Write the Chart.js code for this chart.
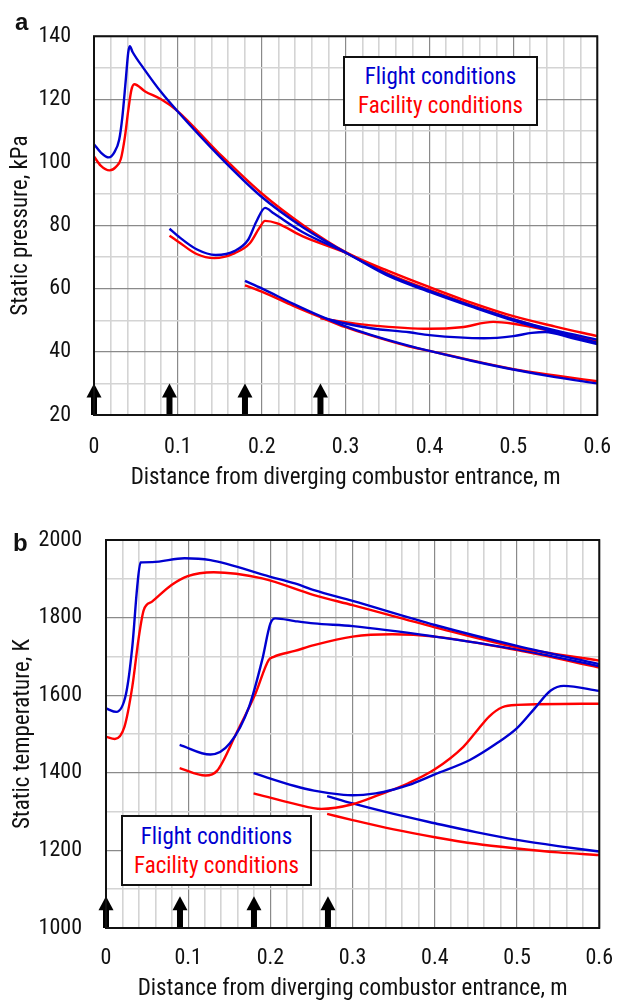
<!DOCTYPE html>
<html>
<head>
<meta charset="utf-8">
<script src="https://cdn.jsdelivr.net/npm/chart.js@4.4.1/dist/chart.umd.min.js"></script>
<style>
  html, body { margin: 0; padding: 0; background: #fff; overflow: hidden; }
  body { width: 630px; height: 1001px; position: relative; font-family: "Roboto Condensed", "Liberation Sans", sans-serif; }
  canvas { position: absolute; left: 0; }
  .legend { position: absolute; box-sizing: border-box; border: 2px solid #111; background: #fff;
            display: flex; flex-direction: column; justify-content: center; align-items: center;
            font-size: 23px; line-height: 29px; }
  .flight { color: #0000d0; }
  .facility { color: #ff0000; }
  .panel { position: absolute; font-family: "Liberation Sans", sans-serif; font-weight: bold; font-size: 24px; line-height: 24px; color: #111; }
</style>
</head>
<body>
<canvas id="pChart" width="630" height="500" style="top:0"></canvas>
<canvas id="tChart" width="630" height="520" style="top:500px"></canvas>
<div class="panel" style="left:15px; top:10px">a</div>
<div class="panel" style="left:13px; top:531px">b</div>
<div class="legend" style="left:343px; top:56px; width:195px; height:70px">
  <div class="flight">Flight conditions</div>
  <div class="facility">Facility conditions</div>
</div>
<div class="legend" style="left:121px; top:815px; width:191px; height:71px">
  <div class="flight">Flight conditions</div>
  <div class="facility">Facility conditions</div>
</div>
<script>
// ---- (a) static pressure, kPa ----
// 飞行条件 (蓝)
var pFlightX1 = [0, 0.008, 0.0177, 0.0242, 0.030, 0.0338, 0.0377, 0.0408, 0.0427, 0.046, 0.06, 0.08, 0.099, 0.149, 0.199, 0.249, 0.3, 0.353, 0.4, 0.45, 0.5, 0.55, 0.6];
var pFlightY1 = [105.8, 103.2, 101.6, 103.2, 107.2, 114.4, 125.6, 134.8, 136.8, 135.0, 129.5, 122.3, 116.4, 102.1, 89.3, 79.5, 71.5, 64.2, 59.3, 54.6, 50.3, 46.8, 43.9];
var pFlightX2 = [0.09, 0.1, 0.1223, 0.145, 0.168, 0.184, 0.1935, 0.204, 0.2146, 0.249, 0.3, 0.353, 0.4, 0.45, 0.5, 0.55, 0.6];
var pFlightY2 = [79.0, 76.7, 72.5, 70.7, 72.0, 75.6, 81.2, 85.6, 83.8, 77.9, 71.4, 63.8, 59.0, 54.3, 49.9, 46.3, 42.9];
var pFlightX3 = [0.18, 0.2, 0.2377, 0.27, 0.3, 0.33, 0.376, 0.4, 0.45, 0.5, 0.55, 0.6];
var pFlightY3 = [62.5, 60.1, 55.2, 51.3, 48.1, 45.4, 41.9, 40.3, 37.2, 34.4, 32.0, 30.0];
var pFlightX4 = [0.27, 0.3, 0.33, 0.376, 0.4, 0.465, 0.5, 0.522, 0.538, 0.57, 0.6];
var pFlightY4 = [51.0, 49.0, 47.5, 46.2, 45.3, 44.3, 45.0, 46.0, 46.3, 44.4, 42.5];
// 设施条件 (红)
var pFacX1 = [0, 0.008, 0.0185, 0.0262, 0.032, 0.0369, 0.0408, 0.0446, 0.048, 0.061, 0.080, 0.099, 0.149, 0.199, 0.249, 0.3, 0.353, 0.4, 0.45, 0.5, 0.55, 0.6];
var pFacY1 = [101.9, 99.0, 97.5, 98.6, 101.1, 108.2, 116.4, 123.0, 124.8, 122.5, 120.0, 116.4, 102.9, 90.4, 80.2, 71.6, 65.4, 60.5, 55.6, 51.3, 48.0, 45.0];
var pFacX2 = [0.09, 0.1, 0.1223, 0.1435, 0.168, 0.1858, 0.197, 0.204, 0.2185, 0.249, 0.3, 0.353, 0.4, 0.45, 0.5, 0.55, 0.6];
var pFacY2 = [76.8, 75.0, 71.0, 69.7, 71.3, 74.4, 79.2, 81.5, 80.7, 76.6, 71.4, 64.5, 59.6, 54.8, 50.4, 46.5, 43.3];
var pFacX3 = [0.18, 0.2, 0.2377, 0.27, 0.3, 0.33, 0.376, 0.4, 0.45, 0.5, 0.55, 0.6];
var pFacY3 = [61.1, 59.1, 54.6, 51.0, 47.8, 45.2, 41.7, 40.3, 37.3, 34.5, 32.5, 30.7];
var pFacX4 = [0.27, 0.3, 0.33, 0.4, 0.4377, 0.476, 0.5, 0.55, 0.6];
var pFacY4 = [50.6, 49.4, 48.4, 47.3, 47.8, 49.5, 48.9, 46.4, 43.6];
var pArrowX = [0, 0.09, 0.18, 0.27];   // 箭头位置
var pArrowTip = 30;

// ---- (b) static temperature, K ----
var tFlightX1 = [0, 0.0126, 0.0245, 0.032, 0.038, 0.042, 0.0563, 0.0955, 0.127, 0.2, 0.2296, 0.253, 0.3, 0.4, 0.5, 0.6];
var tFlightY1 = [1566, 1557, 1605, 1725, 1880, 1942, 1943, 1953, 1948, 1905, 1888, 1871, 1843, 1781, 1727, 1680];
var tFlightX2 = [0.0896, 0.127, 0.1507, 0.174, 0.190, 0.2, 0.206, 0.2296, 0.253, 0.3, 0.4, 0.5, 0.6];
var tFlightY2 = [1472, 1447, 1476, 1570, 1691, 1785, 1798, 1791, 1785, 1778, 1751, 1718, 1675];
var tFlightX3 = [0.1795, 0.2296, 0.253, 0.289, 0.3, 0.328, 0.35, 0.3677, 0.4, 0.4426, 0.474, 0.5, 0.5215, 0.541, 0.557, 0.6];
var tFlightY3 = [1399, 1366, 1354, 1343, 1342, 1347, 1357, 1368, 1396, 1433, 1474, 1515, 1566, 1612, 1624, 1611];
var tFlightX4 = [0.269, 0.3, 0.35, 0.4, 0.45, 0.5, 0.55, 0.6];
var tFlightY4 = [1340, 1321, 1294, 1270, 1247, 1227, 1211, 1197];
var tFacX1 = [0, 0.0107, 0.0225, 0.032, 0.040, 0.046, 0.056, 0.0797, 0.0994, 0.131, 0.190, 0.253, 0.3, 0.4, 0.5, 0.6];
var tFacY1 = [1493, 1487, 1519, 1622, 1751, 1820, 1841, 1884, 1907, 1917, 1901, 1858, 1832, 1775, 1723, 1689];
var tFacX2 = [0.0896, 0.121, 0.135, 0.1586, 0.182, 0.198, 0.204, 0.2296, 0.253, 0.3, 0.348, 0.4, 0.5, 0.6];
var tFacY2 = [1412, 1393, 1405, 1502, 1605, 1691, 1699, 1714, 1729, 1751, 1757, 1751, 1716, 1671];
var tFacX3 = [0.1795, 0.2296, 0.262, 0.3, 0.332, 0.3677, 0.4, 0.4347, 0.45, 0.466, 0.482, 0.5, 0.6];
var tFacY3 = [1347, 1320, 1307, 1319, 1343, 1373, 1409, 1467, 1505, 1545, 1569, 1575, 1578];
var tFacX4 = [0.269, 0.3, 0.35, 0.4, 0.45, 0.5, 0.55, 0.6];
var tFacY4 = [1294, 1278, 1254, 1234, 1217, 1205, 1195, 1188];
var tArrowX = [0, 0.09, 0.18, 0.27];
var tArrowTip = 1082;

var BLUE = '#0000d0';
var RED = '#ff0000';
var FONT = '"Roboto Condensed", "Liberation Sans", sans-serif';

function pts(xs, ys) {
    return xs.map(function (x, i) { return { x: x, y: ys[i] }; });
}
function isMult(v, step) {
    var r = v / step;
    return Math.abs(r - Math.round(r)) < 1e-6;
}
function seg(xs, ys, color) {
    return { data: pts(xs, ys), borderColor: color, showLine: true, fill: false };
}

// 箭头和外框
var marksPlugin = {
    id: 'marks',
    afterDatasetsDraw: function (chart, args, opts) {
        var ctx = chart.ctx, xs = chart.scales.x, ys = chart.scales.y, a = chart.chartArea;
        ctx.save();
        ctx.fillStyle = '#000';
        opts.arrowX.forEach(function (v) {
            var px = xs.getPixelForValue(v);
            var base = ys.getPixelForValue(ys.min);
            var tip = ys.getPixelForValue(opts.arrowTip);
            ctx.fillRect(px - 3, tip + 12, 6, base - tip - 12);
            ctx.beginPath();
            ctx.moveTo(px, tip);
            ctx.lineTo(px + 7.5, tip + 14);
            ctx.lineTo(px - 7.5, tip + 14);
            ctx.closePath();
            ctx.fill();
        });
        ctx.strokeStyle = '#111';
        ctx.lineWidth = 2;
        ctx.strokeRect(a.left, a.top, a.right - a.left, a.bottom - a.top);
        ctx.restore();
    }
};

function buildOptions(o) {
    return {
        responsive: false,
        animation: false,
        layout: { padding: { left: 0, top: o.top, right: o.right, bottom: 0 } },
        plugins: {
            legend: { display: false },
            tooltip: { enabled: false },
            marks: { arrowX: o.arrowX, arrowTip: o.arrowTip }
        },
        elements: {
            point: { radius: 0 },
            line: { borderWidth: 2.4, cubicInterpolationMode: 'monotone' }
        },
        scales: {
            x: {
                type: 'linear', min: 0, max: 0.6,
                afterFit: function (s) { s.height = o.xh; },
                ticks: {
                    stepSize: 0.02, autoSkip: false, maxRotation: 0, maxTicksLimit: 100,
                    padding: o.xpad, color: '#111', font: { family: FONT, size: 22 },
                    callback: function (v) { return isMult(v, 0.1) ? (v === 0 ? '0' : v.toFixed(1)) : ''; }
                },
                grid: {
                    drawTicks: false,
                    color: function (c) { return isMult(c.tick.value, 0.1) ? '#8a8a8a' : '#d4d4d4'; },
                    lineWidth: function (c) { return isMult(c.tick.value, 0.1) ? 1.2 : 1.6; }
                },
                border: { display: false },
                title: {
                    display: true, text: 'Distance from diverging combustor entrance, m', color: '#111',
                    font: { family: FONT, size: 23 }, padding: { top: 0, bottom: o.tpad }
                }
            },
            y: {
                type: 'linear', min: o.ymin, max: o.ymax,
                afterFit: function (s) { s.width = o.yw; },
                ticks: {
                    stepSize: o.ystep / 2, autoSkip: false, maxTicksLimit: 100,
                    padding: o.ypad, color: '#111', font: { family: FONT, size: 22 },
                    callback: function (v) { return isMult(v, o.ystep) ? String(v) : ''; }
                },
                grid: {
                    drawTicks: false,
                    color: function (c) { return isMult(c.tick.value, o.ystep) ? '#8a8a8a' : '#d4d4d4'; },
                    lineWidth: function (c) { return isMult(c.tick.value, o.ystep) ? 1.2 : 1.6; }
                },
                border: { display: false },
                title: {
                    display: true, text: o.ytitle, color: '#111',
                    font: { family: FONT, size: 23 }, padding: { top: o.ytpad, bottom: 0 }
                }
            }
        }
    };
}

new Chart(document.getElementById('pChart'), {
    type: 'scatter',
    data: {
        datasets: [
            seg(pFlightX1, pFlightY1, BLUE), seg(pFacX1, pFacY1, RED),
            seg(pFlightX2, pFlightY2, BLUE), seg(pFacX2, pFacY2, RED),
            seg(pFlightX3, pFlightY3, BLUE), seg(pFacX3, pFacY3, RED),
            seg(pFlightX4, pFlightY4, BLUE), seg(pFacX4, pFacY4, RED)
        ]
    },
    options: buildOptions({
        top: 23, right: 16, xh: 85, yw: 94, xpad: 19, ypad: 23, tpad: 8, ytpad: 7,
        ymin: 20, ymax: 140, ystep: 20, ytitle: 'Static pressure, kPa',
        arrowX: pArrowX, arrowTip: pArrowTip
    }),
    plugins: [marksPlugin]
});

new Chart(document.getElementById('tChart'), {
    type: 'scatter',
    data: {
        datasets: [
            seg(tFlightX1, tFlightY1, BLUE), seg(tFacX1, tFacY1, RED),
            seg(tFlightX2, tFlightY2, BLUE), seg(tFacX2, tFacY2, RED),
            seg(tFlightX3, tFlightY3, BLUE), seg(tFacX3, tFacY3, RED),
            seg(tFlightX4, tFlightY4, BLUE), seg(tFacX4, tFacY4, RED)
        ]
    },
    options: buildOptions({
        top: 40, right: 17, xh: 92, yw: 106, xpad: 17, ypad: 24, tpad: 17, ytpad: 9,
        ymin: 1000, ymax: 2000, ystep: 200, ytitle: 'Static temperature, K',
        arrowX: tArrowX, arrowTip: tArrowTip
    }),
    plugins: [marksPlugin]
});
</script>
</body>
</html>
